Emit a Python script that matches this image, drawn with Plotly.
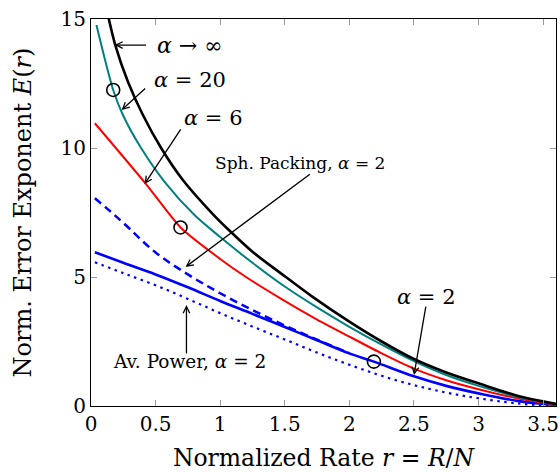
import plotly.graph_objects as go

# alpha -> infinity (black)
x_inf = [0.12, 0.188, 0.286, 0.402, 0.544, 0.711, 0.943, 1.059, 1.25, 1.5, 1.71, 2.0, 2.25, 2.5, 2.75, 3.0, 3.3, 3.6]
y_inf = [15.4, 13.99, 12.57, 11.28, 9.99, 8.76, 7.44, 6.86, 5.98, 5.03, 4.25, 3.27, 2.5, 1.82, 1.3, 0.88, 0.4, 0.08]
# alpha = 20 (teal)
x_20 = [0.042, 0.172, 0.247, 0.389, 0.57, 0.801, 1.0, 1.25, 1.5, 1.75, 2.0, 2.25, 2.5, 2.75, 3.0, 3.3, 3.6]
y_20 = [14.77, 12.25, 11.28, 9.99, 8.69, 7.40, 6.55, 5.55, 4.63, 3.82, 3.07, 2.38, 1.74, 1.2, 0.78, 0.36, 0.07]
# alpha = 6 (red)
x_6 = [0.03, 0.42, 0.693, 1.0, 1.2, 1.46, 1.75, 2.0, 2.25, 2.5, 2.75, 3.0, 3.3, 3.6]
y_6 = [10.96, 8.64, 6.92, 5.7, 5.0, 4.19, 3.35, 2.69, 2.04, 1.45, 1.0, 0.65, 0.3, 0.05]
# alpha = 2 (blue solid)
x_2 = [0.03, 0.25, 0.5, 0.75, 1.0, 1.25, 1.5, 1.75, 2.0, 2.19, 2.5, 2.75, 3.0, 3.3, 3.6]
y_2 = [5.96, 5.55, 5.1, 4.6, 4.07, 3.57, 3.06, 2.55, 2.04, 1.72, 1.15, 0.78, 0.49, 0.2, 0.04]
# Sphere packing, alpha = 2 (blue dashed)
x_sp = [0.03, 0.12, 0.25, 0.5, 0.75, 1.0, 1.25, 1.5, 1.75, 2.0]
y_sp = [8.05, 7.67, 7.1, 5.95, 5.1, 4.37, 3.72, 3.12, 2.57, 2.05]
# Average power, alpha = 2 (blue dotted)
x_av = [0.03, 0.25, 0.5, 0.75, 1.0, 1.25, 1.5, 1.75, 2.0, 2.25, 2.5, 2.75, 3.0, 3.3, 3.6]
y_av = [5.57, 5.15, 4.68, 4.15, 3.6, 3.08, 2.58, 2.07, 1.6, 1.17, 0.81, 0.52, 0.3, 0.1, 0.0]
# circle markers (critical rates)
x_circ = [0.172, 0.693, 2.19]
y_circ = [12.25, 6.92, 1.72]

x_ticks = [0, 0.5, 1, 1.5, 2, 2.5, 3, 3.5]
x_ticklabels = ["0", "0.5", "1", "1.5", "2", "2.5", "3", "3.5"]
y_ticks = [0, 5, 10, 15]
y_ticklabels = ["0", "5", "10", "15"]

FONT = "DejaVu Serif"

fig = go.Figure()
fig.add_trace(go.Scatter(x=x_av, y=y_av, mode="lines", line=dict(color="#0000ff", width=2.2, dash="2.5px,4.5px", shape="spline")))
fig.add_trace(go.Scatter(x=x_sp, y=y_sp, mode="lines", line=dict(color="#0000ff", width=2.5, dash="8px,5px", shape="spline")))
fig.add_trace(go.Scatter(x=x_2, y=y_2, mode="lines", line=dict(color="#0000ff", width=2.6, shape="spline")))
fig.add_trace(go.Scatter(x=x_6, y=y_6, mode="lines", line=dict(color="#ff0000", width=2, shape="spline", smoothing=0.6)))
fig.add_trace(go.Scatter(x=x_20, y=y_20, mode="lines", line=dict(color="#008080", width=2, shape="spline", smoothing=0.8)))
fig.add_trace(go.Scatter(x=x_inf, y=y_inf, mode="lines", line=dict(color="#000000", width=2.6, shape="spline", smoothing=0.8)))
fig.add_trace(go.Scatter(x=x_circ, y=y_circ, mode="markers",
                         marker=dict(symbol="circle-open", size=13, color="black", line=dict(width=1.6, color="black"))))

arrows = [
    ((0.438, 13.99), (0.183, 13.99)),
    ((0.431, 12.36), (0.237, 11.47)),
    ((0.702, 10.78), (0.415, 8.60)),
    ((1.706, 9.03), (0.732, 5.39)),
    ((2.594, 3.91), (2.501, 1.20)),
    ((0.739, 1.98), (0.739, 3.91)),
]
for (tx, ty), (hx, hy) in arrows:
    fig.add_annotation(x=hx, y=hy, ax=tx, ay=ty, xref="x", yref="y", axref="x", ayref="y",
                       text="", showarrow=True, arrowhead=5, arrowsize=1.0, arrowwidth=1.3, arrowcolor="black")

labels = [
    (0.765, 13.99, "<i>α</i> → ∞", 22),
    (0.765, 12.64, "<i>α</i> = 20", 21),
    (0.95, 11.16, "<i>α</i> = 6", 21),
    (1.62, 9.42, "Sph. Packing, <i>α</i> = 2", 17),
    (2.594, 4.22, "<i>α</i> = 2", 21),
    (0.765, 1.71, "Av. Power, <i>α</i> = 2", 18.5),
]
for x, y, t, s in labels:
    fig.add_annotation(x=x, y=y, xref="x", yref="y", text=t, showarrow=False,
                       font=dict(family=FONT, size=s, color="black"))

axis_common = dict(showgrid=False, zeroline=False, showline=True, linecolor="black", linewidth=1.2,
                   mirror="ticks", ticks="inside", ticklen=6, tickcolor="#999999", automargin=False,
                   ticklabeloverflow="allow", tickfont=dict(family=FONT, size=20, color="black"))
fig.update_xaxes(range=[0, 3.6], tickvals=x_ticks, ticktext=x_ticklabels,
                 title=dict(text="Normalized Rate <i>r</i> = <i>R</i>/<i>N</i>", font=dict(family=FONT, size=23.5, color="black"), standoff=24),
                 **axis_common)
fig.update_yaxes(range=[0, 15], tickvals=y_ticks, ticktext=y_ticklabels, ticklabelstandoff=0,
                 title=dict(text="Norm. Error Exponent <i>E</i>(<i>r</i>)", font=dict(family=FONT, size=24, color="black"), standoff=22),
                 **axis_common)
fig.update_layout(width=560, height=472, margin=dict(l=91, r=4, t=19, b=66),
                  paper_bgcolor="white", plot_bgcolor="white", showlegend=False)
fig.write_html("out.html", config={"displayModeBar": False},
               post_script="document.body.style.margin='0px';document.body.style.overflow='hidden';")
